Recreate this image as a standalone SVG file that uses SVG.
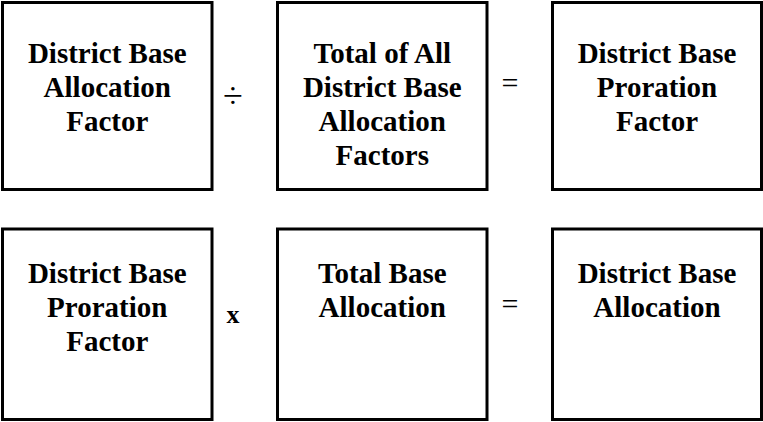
<svg xmlns="http://www.w3.org/2000/svg" width="763" height="422" viewBox="0 0 763 422">
<style>
.box{fill:#fff;stroke:#000;stroke-width:3}
</style>
<rect width="763" height="422" fill="#fff"/>
<g font-family="Liberation Serif, Times New Roman, serif" text-anchor="middle" fill="#000">
<g id="n1" font-weight="bold" font-size="29">
<rect class="box" x="2.5" y="2.5" width="209.5" height="187"/>
<text x="107.25" y="63">District Base</text>
<text x="107.25" y="97">Allocation</text>
<text x="107.25" y="131">Factor</text>
</g>
<g id="n2" font-weight="bold" font-size="29">
<rect class="box" x="277.5" y="2.5" width="209.5" height="187"/>
<text x="382.25" y="63">Total of All</text>
<text x="382.25" y="97">District Base</text>
<text x="382.25" y="131">Allocation</text>
<text x="382.25" y="165">Factors</text>
</g>
<g id="n3" font-weight="bold" font-size="29">
<rect class="box" x="552.5" y="2.5" width="209" height="187"/>
<text x="657" y="63">District Base</text>
<text x="657" y="97">Proration</text>
<text x="657" y="131">Factor</text>
</g>
<g id="n4" font-weight="bold" font-size="29">
<rect class="box" x="2.5" y="229" width="209.5" height="190.5"/>
<text x="107.25" y="283">District Base</text>
<text x="107.25" y="317">Proration</text>
<text x="107.25" y="351">Factor</text>
</g>
<g id="n5" font-weight="bold" font-size="29">
<rect class="box" x="277.5" y="229" width="209.5" height="190.5"/>
<text x="382.25" y="283">Total Base</text>
<text x="382.25" y="317">Allocation</text>
</g>
<g id="n6" font-weight="bold" font-size="29">
<rect class="box" x="552.5" y="229" width="209" height="190.5"/>
<text x="657" y="283">District Base</text>
<text x="657" y="317">Allocation</text>
</g>
<g id="connectors" font-size="30">
<text x="233" y="108" font-size="36">÷</text>
<text x="510" y="93">=</text>
<text x="233" y="323" font-size="26" font-weight="bold">x</text>
<text x="510" y="314">=</text>
</g>
</g>
</svg>
